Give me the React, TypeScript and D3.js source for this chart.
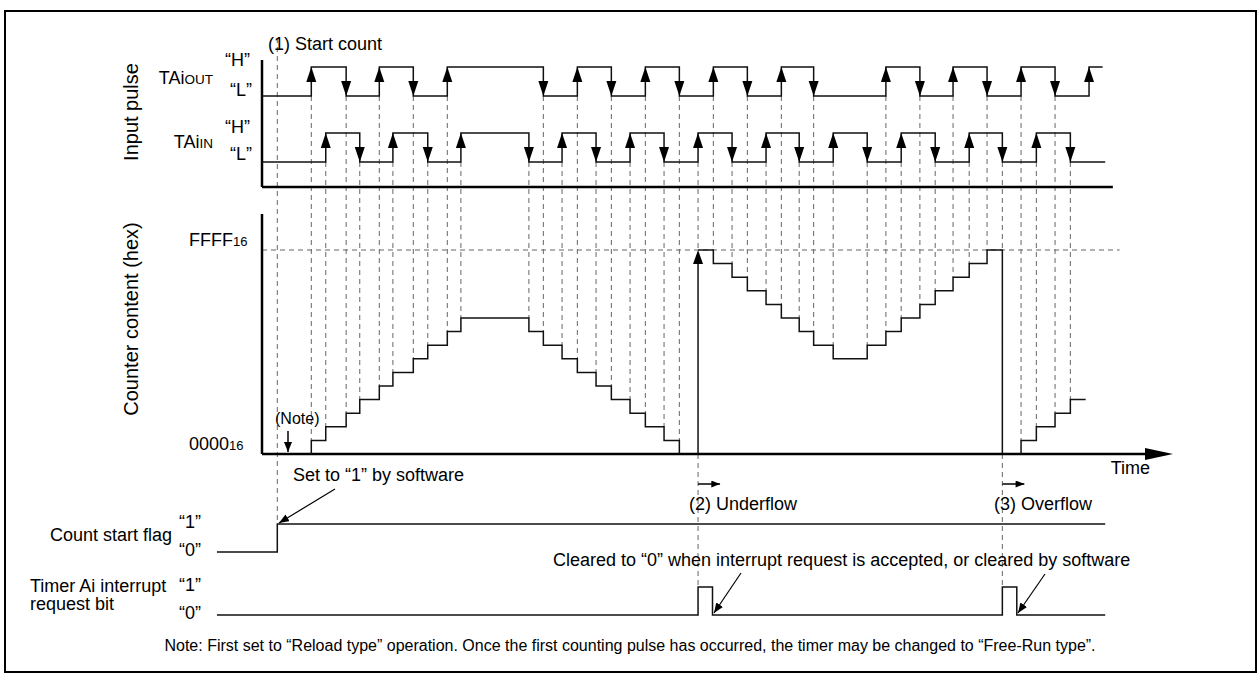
import * as d3 from "d3";

// edge times of the two input pulses (arbitrary time units), first edge is a rise
const outEdges = [58, 99, 138, 178, 218, 331, 371, 411, 451, 491, 531, 571, 611, 649, 734, 774, 813, 853, 893, 933, 973];
const inEdges = [75, 115, 154, 195, 234, 314, 353, 393, 433, 473, 513, 553, 593, 632, 672, 712, 752, 792, 832, 871, 911, 951];
const outEnd = 989;
const inEnd = 992;

// counter content in steps (0 = 0000h, 15 = FFFFh)
const countA: [number, number][] = [
  [58, 0], [58, 1], [75, 2], [99, 3], [115, 4], [138, 5], [154, 6], [178, 7], [195, 8], [218, 9], [234, 10],
  [314, 9], [331, 8], [353, 7], [371, 6], [393, 5], [411, 4], [433, 3], [451, 2], [473, 1], [491, 0],
];
const countB: [number, number][] = [
  [513, 15], [531, 14], [553, 13], [571, 12], [593, 11], [611, 10], [632, 9], [649, 8], [672, 7],
  [712, 8], [734, 9], [752, 10], [774, 11], [792, 12], [813, 13], [832, 14], [853, 15], [871, 0],
];
const countC: [number, number][] = [[893, 0], [893, 1], [911, 2], [933, 3], [951, 4], [969, 4]];

const startT = 18;
const underflowT = 513;
const overflowT = 871;
const irqPulses: [number, number][] = [[513, 530], [871, 888]];
const flagStart = -53;
const flagEnd = 992;

const hexTicks = [
  { v: 0, label: "0000" },
  { v: 15, label: "FFFF" },
];

const FONT = "'Liberation Sans', Arial, Helvetica, sans-serif";

const x = d3.scaleLinear().domain([0, 1000]).range([262, 1112]);
const yCount = d3.scaleLinear().domain([0, 15]).range([454, 250]);
const yOut = d3.scaleLinear().domain([0, 1]).range([96, 67]);
const yIn = d3.scaleLinear().domain([0, 1]).range([162, 133]);
const yFlag = d3.scaleLinear().domain([0, 1]).range([552, 524]);
const yIrq = d3.scaleLinear().domain([0, 1]).range([615, 587]);

const states = (edges: number[], end: number): [number, number][] => {
  const pts: [number, number][] = [[0, 0]];
  edges.forEach((t, i) => pts.push([t, i % 2 === 0 ? 1 : 0]));
  pts.push([end, edges.length % 2 === 1 ? 1 : 0]);
  return pts;
};

const stepLine = (y: d3.ScaleLinear<number, number>) =>
  d3
    .line<[number, number]>()
    .x((d) => x(d[0]))
    .y((d) => y(d[1]))
    .curve(d3.curveStepAfter);

// step events of the counter, used for the dashed guides
const allCounts = [...countA, ...countB, ...countC];
const events: { t: number; top: number }[] = [];
allCounts.forEach((d, i) => {
  if (i === 0) return;
  const prev = allCounts[i - 1][1];
  if (prev !== d[1]) events.push({ t: d[0], top: Math.max(prev, d[1]) });
});

const Signal = ({ edges, end, y }: { edges: number[]; end: number; y: d3.ScaleLinear<number, number> }) => {
  const tri = (t: number, rising: boolean) => {
    const cx = x(t);
    if (rising) {
      const tip = y(1);
      return `M${cx},${tip}L${cx - 5},${tip + 15}L${cx + 5},${tip + 15}Z`;
    }
    const tip = y(0);
    return `M${cx},${tip}L${cx - 5},${tip - 15}L${cx + 5},${tip - 15}Z`;
  };
  return (
    <g>
      <path d={stepLine(y)(states(edges, end)) ?? ""} fill="none" stroke="#111" strokeWidth={1.5} />
      {edges.map((t, i) => (
        <path key={i} d={tri(t, i % 2 === 0)} fill="#000" />
      ))}
    </g>
  );
};

export default function App() {
  const guideTop = (t: number) => (outEdges.includes(t) ? yOut(0) : yIn(0));
  const irqPts: [number, number][] = [[flagStart, 0]];
  irqPulses.forEach(([a, b]) => {
    irqPts.push([a, 1], [b, 0]);
  });
  irqPts.push([flagEnd, 0]);
  const flagPts: [number, number][] = [[flagStart, 0], [startT, 1], [flagEnd, 1]];

  const dash = { stroke: "#666", strokeWidth: 1, strokeDasharray: "5,4" };
  const txt = { fontFamily: FONT, fontSize: 18, fill: "#000" };

  return (
    <svg width={1259} height={677} style={{ position: "absolute", left: 0, top: 0, background: "#fff" }}>
      <defs>
        <marker id="ah" viewBox="0 0 10 8" refX={10} refY={4} markerWidth={10} markerHeight={8} markerUnits="userSpaceOnUse" orient="auto">
          <path d="M0,0L10,4L0,8Z" fill="#000" />
        </marker>
        <marker id="ahs" viewBox="0 0 10 8" refX={10} refY={4} markerWidth={9} markerHeight={7} markerUnits="userSpaceOnUse" orient="auto">
          <path d="M0,0L10,4L0,8Z" fill="#000" />
        </marker>
      </defs>
      <rect x={5} y={11} width={1251} height={661} fill="#fff" stroke="#000" strokeWidth={2} />

      {/* dashed guides */}
      <line x1={x(startT)} x2={x(startT)} y1={38} y2={yFlag(1)} {...dash} />
      {events.map((e, i) => (
        <line key={i} x1={x(e.t)} x2={x(e.t)} y1={guideTop(e.t)} y2={yCount(e.top)} {...dash} />
      ))}
      {[underflowT, overflowT].map((t) => (
        <line key={t} x1={x(t)} x2={x(t)} y1={yCount(0)} y2={yIrq(1)} {...dash} />
      ))}
      <line x1={x(0)} x2={x(1009)} y1={yCount(15)} y2={yCount(15)} {...dash} />

      {/* input pulse panel */}
      <line x1={x(0)} x2={x(0)} y1={60} y2={187} stroke="#000" strokeWidth={2.5} />
      <line x1={x(0)} x2={x(1001)} y1={187} y2={187} stroke="#000" strokeWidth={2.5} />
      <Signal edges={outEdges} end={outEnd} y={yOut} />
      <Signal edges={inEdges} end={inEnd} y={yIn} />

      <text {...txt} x={268} y={50}>(1) Start count</text>
      <text {...txt} fontSize={20} transform="translate(138,112) rotate(-90)" textAnchor="middle">Input pulse</text>
      <text {...txt} x={213} y={84} textAnchor="end">TAi<tspan fontSize={13.5}>OUT</tspan></text>
      <text {...txt} x={213} y={148} textAnchor="end">TAi<tspan fontSize={13.5}>IN</tspan></text>
      <text {...txt} x={250} y={66} textAnchor="end">“H”</text>
      <text {...txt} x={252} y={96} textAnchor="end">“L”</text>
      <text {...txt} x={250} y={133} textAnchor="end">“H”</text>
      <text {...txt} x={252} y={160} textAnchor="end">“L”</text>

      {/* counter panel */}
      <line x1={x(0)} x2={x(0)} y1={214} y2={yCount(0)} stroke="#000" strokeWidth={2.5} />
      <line x1={x(0)} x2={1148} y1={yCount(0)} y2={yCount(0)} stroke="#000" strokeWidth={2.5} />
      <path d={`M1145,${yCount(0) - 6}L1173,${yCount(0)}L1145,${yCount(0) + 6}Z`} fill="#000" />
      {[countA, countB, countC].map((seg, i) => (
        <path key={i} d={stepLine(yCount)(seg) ?? ""} fill="none" stroke="#111" strokeWidth={1.5} />
      ))}
      <line x1={x(underflowT)} x2={x(underflowT)} y1={yCount(0)} y2={yCount(15) + 12} stroke="#111" strokeWidth={1.5} />
      <path
        d={`M${x(underflowT)},${yCount(15)}L${x(underflowT) - 5},${yCount(15) + 14}L${x(underflowT) + 5},${yCount(15) + 14}Z`}
        fill="#000"
      />
      {hexTicks.map((d) => (
        <text key={d.v} {...txt} x={189} y={yCount(d.v) - 4}>
          {d.label}
          <tspan fontSize={13}>16</tspan>
        </text>
      ))}
      <text {...txt} fontSize={20} transform="translate(138,319) rotate(-90)" textAnchor="middle">Counter content (hex)</text>
      <text {...txt} fontSize={16} x={275} y={424}>(Note)</text>
      <line x1={288} x2={288} y1={431} y2={452} stroke="#000" strokeWidth={1.5} markerEnd="url(#ah)" />
      <text {...txt} x={1150} y={474} textAnchor="end">Time</text>

      {/* underflow / overflow */}
      <line x1={x(underflowT)} x2={x(underflowT) + 22} y1={484} y2={484} stroke="#000" strokeWidth={1.5} markerEnd="url(#ahs)" />
      <line x1={x(overflowT)} x2={x(overflowT) + 22} y1={484} y2={484} stroke="#000" strokeWidth={1.5} markerEnd="url(#ahs)" />
      <text {...txt} x={689} y={510}>(2) Underflow</text>
      <text {...txt} x={994} y={510}>(3) Overflow</text>

      {/* count start flag */}
      <text {...txt} x={293} y={481}>Set to “1”  by software</text>
      <line x1={335} x2={279} y1={489} y2={523} stroke="#000" strokeWidth={1.2} markerEnd="url(#ah)" />
      <text {...txt} x={172} y={541} textAnchor="end">Count start flag</text>
      <text {...txt} x={201} y={yFlag(1) + 4} textAnchor="end">“1”</text>
      <text {...txt} x={201} y={yFlag(0) + 4} textAnchor="end">“0”</text>
      <path d={stepLine(yFlag)(flagPts) ?? ""} fill="none" stroke="#111" strokeWidth={1.5} />

      {/* interrupt request bit */}
      <text {...txt} x={553} y={566}>Cleared to “0” when interrupt request is accepted, or cleared by software</text>
      <line x1={741} x2={714} y1={573} y2={613} stroke="#000" strokeWidth={1.2} markerEnd="url(#ah)" />
      <line x1={1045} x2={1018} y1={574} y2={613} stroke="#000" strokeWidth={1.2} markerEnd="url(#ah)" />
      <text {...txt} x={30} y={592}>Timer Ai interrupt</text>
      <text {...txt} x={30} y={610}>request bit</text>
      <text {...txt} x={201} y={yIrq(1) + 4} textAnchor="end">“1”</text>
      <text {...txt} x={201} y={yIrq(0) + 4} textAnchor="end">“0”</text>
      <path d={stepLine(yIrq)(irqPts) ?? ""} fill="none" stroke="#111" strokeWidth={1.5} />

      <text {...txt} fontSize={16} x={630} y={651} textAnchor="middle">
        Note: First set to “Reload type” operation. Once the first counting pulse has occurred, the timer may be changed to “Free-Run type”.
      </text>
    </svg>
  );
}
